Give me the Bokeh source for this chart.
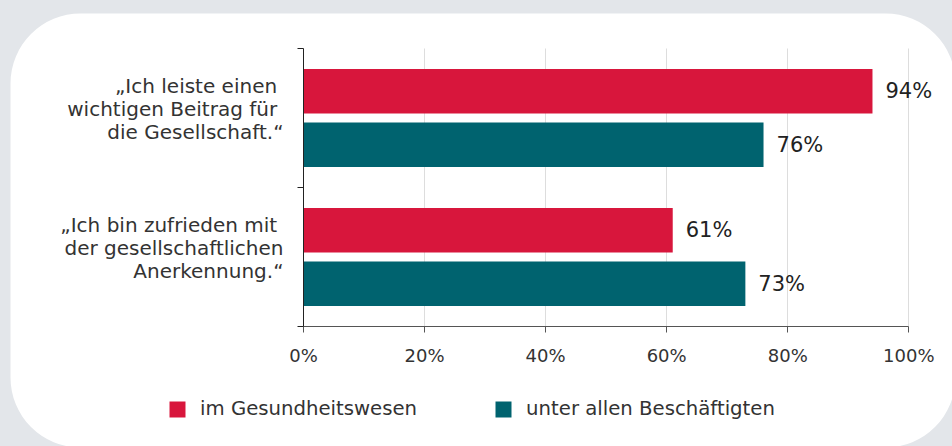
from bokeh.plotting import figure
from bokeh.models import (ColumnDataSource, Range1d, FixedTicker, LabelSet, Legend,
                          LegendItem, BoxAnnotation, GlobalInlineStyleSheet,
                          PrintfTickFormatter)
from bokeh.core.properties import value
from bokeh.embed import file_html
from bokeh.resources import INLINE

# ---- data ----
categories = ["„Ich leiste einen \nwichtigen Beitrag für \ndie Gesellschaft.“",
              "„Ich bin zufrieden mit \nder gesellschaftlichen\nAnerkennung.“"]
series_names = ["im Gesundheitswesen", "unter allen Beschäftigten"]
health = [94, 61]
all_employees = [76, 73]
x_ticks = [0, 20, 40, 60, 80, 100]
colors = ["#d8163c", "#00636f"]

FONT = "DejaVu Sans"
TEXT = "#333333"
BG = "#e3e6ea"

n = len(categories)
cat_pos = [i + 0.5 for i in range(n)]
offset = 0.193
bar_h = 0.32

# plot frame covers the whole canvas; axes are pinned with fixed_location
W, H = 952, 446
x0_px, x_scale = 303, 6.053     # pixel of 0 %, pixels per %
y0_px, y_scale = 48, 139        # pixel of top boundary, pixels per category
x_range = Range1d(-x0_px / x_scale, (W - x0_px) / x_scale)
y_range = Range1d((H - y0_px) / y_scale, -y0_px / y_scale)

p = figure(width=W, height=H, output_backend="svg", toolbar_location=None,
           x_range=x_range, y_range=y_range,
           min_border=0, min_border_left=0, min_border_right=0,
           min_border_top=0, min_border_bottom=0)
p.outline_line_color = None
p.background_fill_color = BG
p.border_fill_color = BG
p.stylesheets = [GlobalInlineStyleSheet(css="body{background:%s;}" % BG)]

panel = BoxAnnotation(left=10, right=955, top=13, bottom=447,
                      left_units="canvas", right_units="canvas",
                      top_units="canvas", bottom_units="canvas",
                      fill_color="white", fill_alpha=1, line_color=None,
                      border_radius=70, level="image")
p.add_layout(panel)

src_h = ColumnDataSource(dict(y=[c - offset for c in cat_pos], right=health,
                              label=[f"{v}%" for v in health]))
src_a = ColumnDataSource(dict(y=[c + offset for c in cat_pos], right=all_employees,
                              label=[f"{v}%" for v in all_employees]))
r1 = p.hbar(y="y", left=0, right="right", height=bar_h, source=src_h,
            fill_color=colors[0], line_color=None)
r2 = p.hbar(y="y", left=0, right="right", height=bar_h, source=src_a,
            fill_color=colors[1], line_color=None)

for src in (src_h, src_a):
    p.add_layout(LabelSet(x="right", y="y", text="label", source=src,
                          x_offset=13, text_baseline="middle", text_align="left",
                          text_font=value(FONT), text_font_size="21px",
                          text_color="#222222"))

# category labels: one right-aligned row per text line
line_px, shift_px = 23.3, 9
cx, cy, ct, coff = [], [], [], []
for ci, label in enumerate(categories):
    lines = label.split("\n")
    k = len(lines)
    for li, line in enumerate(lines):
        cx.append(0)
        cy.append(cat_pos[ci])
        ct.append(line)
        coff.append(shift_px + ((k - 1) / 2 - li) * line_px)
src_c = ColumnDataSource(dict(x=cx, y=cy, text=ct, yoff=coff))
p.add_layout(LabelSet(x="x", y="y", text="text", source=src_c, x_offset=-20,
                      y_offset="yoff", text_align="right", text_baseline="middle",
                      text_font=value(FONT), text_font_size="20px",
                      text_color=TEXT))

# grid
p.ygrid.visible = False
p.xgrid.grid_line_color = "#dddddd"
p.xgrid.grid_line_width = 1
p.xgrid.ticker = FixedTicker(ticks=x_ticks)
p.xgrid.cross_bounds = (0, n)

# x axis
p.xaxis.fixed_location = n
p.xaxis.bounds = (0, 100)
p.xaxis.ticker = FixedTicker(ticks=x_ticks)
p.xaxis.formatter = PrintfTickFormatter(format="%d%%")
p.xaxis.major_tick_out = 6
p.xaxis.major_tick_in = 0
p.xaxis.minor_tick_line_color = None
p.xaxis.axis_line_color = "#555555"
p.xaxis.major_tick_line_color = "#555555"
p.xaxis.major_label_text_font = FONT
p.xaxis.major_label_text_font_size = "18px"
p.xaxis.major_label_text_color = TEXT
p.xaxis.major_label_standoff = 12

# y axis
p.yaxis.fixed_location = 0
p.yaxis.bounds = (0, n)
p.yaxis.ticker = FixedTicker(ticks=[], minor_ticks=list(range(n + 1)))
p.yaxis.minor_tick_out = 6
p.yaxis.minor_tick_in = 0
p.yaxis.minor_tick_line_color = "#222222"
p.yaxis.axis_line_color = "#222222"
p.yaxis.major_tick_line_color = None

legend = Legend(items=[LegendItem(label=series_names[0], renderers=[r1]),
                       LegendItem(label=series_names[1], renderers=[r2])],
                orientation="horizontal", location=(167, 26),
                glyph_width=20, glyph_height=20, label_standoff=13, spacing=76,
                padding=0, margin=0, border_line_color=None,
                background_fill_alpha=0, label_text_font=FONT,
                label_text_font_size="19.7px", label_text_color=TEXT)
p.add_layout(legend)

open("out.html", "w").write(file_html(p, INLINE))
